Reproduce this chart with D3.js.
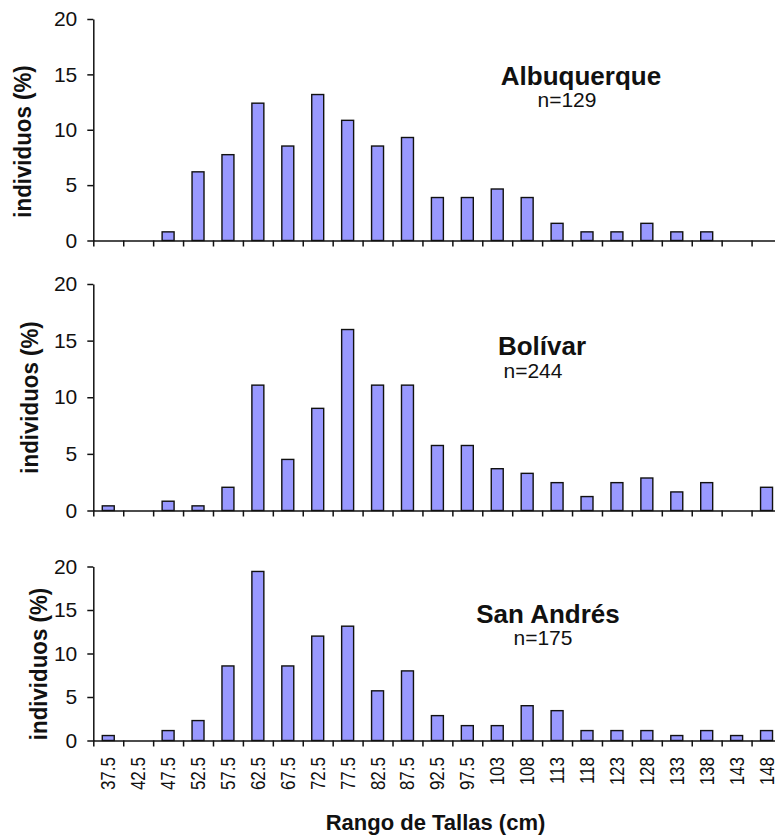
<!DOCTYPE html>
<html>
<head>
<meta charset="utf-8">
<script src="https://cdn.jsdelivr.net/npm/d3@7/dist/d3.min.js"></script>
<style>
  html, body { margin: 0; padding: 0; background: #fff; }
  svg { display: block; font-family: "Liberation Sans", Arial, sans-serif; }
</style>
</head>
<body>
<svg id="chart" width="775" height="835"></svg>
<script>
// Size classes (cm), one bar per class
const categories = ["37.5","42.5","47.5","52.5","57.5","62.5","67.5","72.5","77.5","82.5",
  "87.5","92.5","97.5","103","108","113","118","123","128","133","138","143","148"];

// Percentage of individuals per size class
const albuquerque = [0, 0, 0.78, 6.2, 7.75, 12.4, 8.53, 13.18, 10.85, 8.53, 9.3, 3.88,
  3.88, 4.65, 3.88, 1.55, 0.78, 0.78, 1.55, 0.78, 0.78, 0, 0];
const bolivar = [0.41, 0, 0.82, 0.41, 2.05, 11.07, 4.51, 9.02, 15.98, 11.07, 11.07, 5.74,
  5.74, 3.69, 3.28, 2.46, 1.23, 2.46, 2.87, 1.64, 2.46, 0, 2.05];
const sanAndres = [0.57, 0, 1.14, 2.29, 8.57, 19.43, 8.57, 12.0, 13.14, 5.71, 8.0, 2.86,
  1.71, 1.71, 4.0, 3.43, 1.14, 1.14, 1.14, 0.57, 1.14, 0.57, 1.14];

const siteNames = ["Albuquerque", "Bolívar", "San Andrés"];
const sampleSizes = [129, 244, 175];
const yTicks = [0, 5, 10, 15, 20];
const yTitle = "individuos (%)";
const xTitle = "Rango de Tallas (cm)";

const series = [albuquerque, bolivar, sanAndres];

// Panel layout
const xLeft = 93.3, xRight = 781.5;
const panels = [
  { y0: 240.5, y20: 19,    titleX: 581, titleY: 85,  nX: 567, nY: 107, axTitleX: 31,   axTitleY: 141.5 },
  { y0: 510.5, y20: 284,   titleX: 542, titleY: 355, nX: 533, nY: 378, axTitleX: 37.5, axTitleY: 397.5 },
  { y0: 740.5, y20: 566.5, titleX: 548, titleY: 623, nX: 543, nY: 645, axTitleX: 46.5, axTitleY: 664 }
];

const svg = d3.select("#chart");

const x = d3.scaleBand()
  .domain(categories)
  .range([xLeft, xRight])
  .paddingInner(0.6)
  .paddingOuter(0.3);

// Class boundaries, where the category ticks sit
const xEdges = d3.scaleLinear().domain([0, categories.length]).range([xLeft, xRight]);

panels.forEach((p, i) => {
  const y = d3.scaleLinear().domain([0, 20]).range([p.y0, p.y20]);
  const g = svg.append("g");

  // bars
  g.append("g").selectAll("rect")
    .data(series[i].map((v, k) => ({ cat: categories[k], v })))
    .join("rect")
    .attr("x", d => x(d.cat))
    .attr("width", x.bandwidth())
    .attr("y", d => y(d.v))
    .attr("height", d => y(0) - y(d.v))
    .attr("fill", "#9999ff")
    .attr("stroke", "#111")
    .attr("stroke-width", 1.4)
    .attr("visibility", d => d.v > 0 ? "visible" : "hidden");

  // x axis with ticks at class boundaries
  const xAxis = g.append("g")
    .attr("transform", `translate(0,${p.y0})`)
    .call(d3.axisBottom(xEdges)
      .tickValues(d3.range(0, categories.length + 1))
      .tickFormat("")
      .tickSize(6)
      .tickSizeOuter(0));
  xAxis.selectAll("line, path").attr("stroke", "#111").attr("stroke-width", 1.5);

  // y axis
  const yAxis = g.append("g")
    .attr("transform", `translate(${xLeft},0)`)
    .call(d3.axisLeft(y)
      .tickValues(yTicks)
      .tickSize(6)
      .tickPadding(10)
      .tickSizeOuter(0));
  yAxis.selectAll("line, path").attr("stroke", "#111").attr("stroke-width", 1.5);
  yAxis.selectAll("text")
    .attr("font-size", 21)
    .attr("fill", "#111")
    .attr("font-family", "'Liberation Sans', Arial, sans-serif");

  // y axis title
  g.append("text")
    .attr("transform", `translate(${p.axTitleX},${p.axTitleY}) rotate(-90) scale(0.93,1)`)
    .attr("text-anchor", "middle")
    .attr("font-weight", "bold")
    .attr("font-size", 24)
    .attr("fill", "#111")
    .text(yTitle);

  // site name and sample size
  g.append("text")
    .attr("x", p.titleX).attr("y", p.titleY)
    .attr("text-anchor", "middle")
    .attr("font-weight", "bold")
    .attr("font-size", 26)
    .attr("fill", "#111")
    .text(siteNames[i]);
  g.append("text")
    .attr("x", p.nX).attr("y", p.nY)
    .attr("text-anchor", "middle")
    .attr("font-size", 21)
    .attr("fill", "#111")
    .text("n=" + sampleSizes[i]);

  // category labels under the bottom panel only
  if (i === panels.length - 1) {
    const labels = g.append("g")
      .attr("transform", `translate(0,${p.y0})`)
      .call(d3.axisBottom(x).tickSize(0).tickPadding(0));
    labels.select(".domain").remove();
    labels.selectAll("text")
      .attr("transform", "translate(0,16.5) rotate(-90) scale(0.85,1)")
      .attr("x", 0).attr("y", 0)
      .attr("dy", "0.35em")
      .attr("text-anchor", "end")
      .attr("font-size", 20)
      .attr("fill", "#111")
      .attr("font-family", "'Liberation Sans', Arial, sans-serif");

    svg.append("text")
      .attr("x", 435.5).attr("y", 830)
      .attr("text-anchor", "middle")
      .attr("font-weight", "bold")
      .attr("font-size", 22)
      .attr("fill", "#111")
      .text(xTitle);
  }
});
</script>
</body>
</html>
